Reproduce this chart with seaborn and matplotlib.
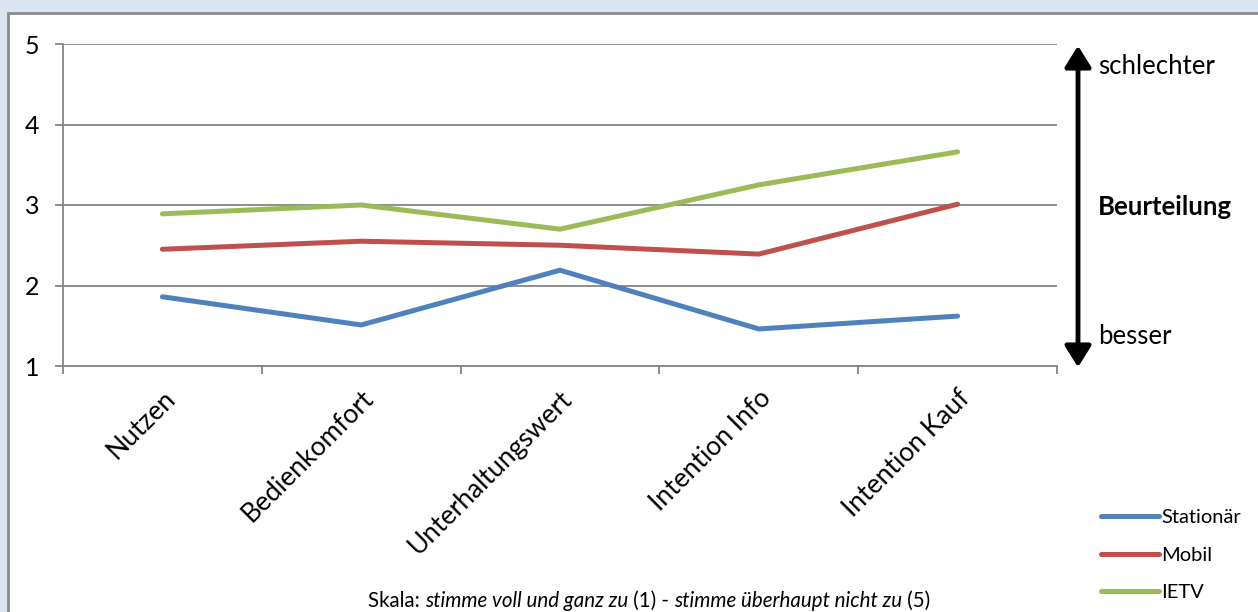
import matplotlib
matplotlib.use('Agg')
import matplotlib.pyplot as plt
from matplotlib.patches import Rectangle, FancyArrowPatch
from matplotlib.lines import Line2D
import seaborn as sns
import pandas as pd

categories = ['Nutzen', 'Bedienkomfort', 'Unterhaltungswert', 'Intention Info', 'Intention Kauf']
stationaer = [1.86, 1.51, 2.19, 1.46, 1.62]
mobil = [2.45, 2.55, 2.50, 2.39, 3.01]
ietv = [2.89, 3.00, 2.70, 3.25, 3.66]
series_names = ['Stationär', 'Mobil', 'IETV']
colors = ['#4F81BD', '#C0504D', '#9BBB59']

df = pd.DataFrame({
    'Kategorie': categories * 3,
    'Wert': stationaer + mobil + ietv,
    'Gruppe': [n for n in series_names for _ in categories],
})
df['pos'] = df['Kategorie'].map({c: i for i, c in enumerate(categories)})

sns.set_style('white')
plt.rcParams['font.family'] = ['Lato', 'DejaVu Sans']
plt.rcParams['text.color'] = 'black'
plt.rcParams['xtick.labelcolor'] = 'black'
plt.rcParams['ytick.labelcolor'] = 'black'

W, H = 1258, 612
fig = plt.figure(figsize=(W / 100, H / 100), dpi=100)
fig.patch.set_facecolor('#DBE5F1')
fig.patches.append(Rectangle((8 / W, -0.1), 1.2, 1 - 13 / H + 0.1, transform=fig.transFigure,
                             facecolor='white', edgecolor='#8C8C8C', linewidth=2, zorder=-5))

ax = fig.add_axes([63 / W, 1 - 366 / H, (1057 - 63) / W, (366 - 44) / H])
ax.set_facecolor('none')

sns.lineplot(data=df, x='pos', y='Wert', hue='Gruppe', palette=colors, linewidth=3.6,
             sort=False, legend=False, ax=ax, zorder=3)

ax.set_xlim(-0.5, len(categories) - 0.5)
ax.set_ylim(1, 5)
ax.set_yticks([1, 2, 3, 4, 5])
ax.yaxis.grid(True, color='#868686', linewidth=1.3)
ax.set_axisbelow(True)
ax.tick_params(axis='y', left=True, length=6, width=1.3, color='#868686', labelsize=18, pad=11)
ax.set_xticks(range(len(categories)))
ax.set_xticklabels(categories, rotation=45, ha='right', rotation_mode='anchor', fontsize=19)
ax.tick_params(axis='x', which='major', bottom=False, length=0, pad=14)
ax.set_xticks([i - 0.5 for i in range(len(categories) + 1)], minor=True)
ax.tick_params(axis='x', which='minor', bottom=True, length=6, width=1.3, color='#868686')
for s in ['top', 'right']:
    ax.spines[s].set_visible(False)
for s in ['left', 'bottom']:
    ax.spines[s].set_color('#868686')
    ax.spines[s].set_linewidth(1.3)
ax.set_xlabel('')
ax.set_ylabel('')

# Arrow and labels on the right
ax_x = 1078 / W
fig.patches.append(FancyArrowPatch(
    (ax_x, 1 - 370 / H), (ax_x, 1 - 43 / H), transform=fig.transFigure,
    arrowstyle='<|-|>,head_length=8,head_width=5', mutation_scale=1.6,
    color='black', linewidth=3.5, zorder=5))
fig.text(1098 / W, 1 - 66 / H, 'schlechter', fontsize=18.5, va='center', ha='left')
fig.text(1098 / W, 1 - 207 / H, 'Beurteilung', fontsize=18.5, fontweight='bold', va='center', ha='left')
fig.text(1098 / W, 1 - 336 / H, 'besser', fontsize=18.5, va='center', ha='left')

# Legend
handles = [Line2D([], [], color=c, linewidth=3.6, solid_capstyle='round') for c in colors]
fig.legend(handles, series_names, loc='center left', bbox_to_anchor=(1101 / W, 1 - 555 / H),
           frameon=False, fontsize=14.5, handlelength=2.9, handletextpad=0.1, labelspacing=1.02,
           borderaxespad=0, borderpad=0)

# Footer with mixed italics
pieces = [('Skala: ', 'normal'), ('stimme voll und ganz zu', 'italic'), (' (1) - ', 'normal'),
          ('stimme überhaupt nicht zu', 'italic'), (' (5)', 'normal')]
fig.canvas.draw()
renderer = fig.canvas.get_renderer()
texts = []
for txt, style in pieces:
    t = fig.text(0, 1 - 601 / H, txt, fontsize=14.8, style=style, va='center', ha='left')
    texts.append(t)
widths = [t.get_window_extent(renderer).width / W for t in texts]
x = 649 / W - sum(widths) / 2
for t, w in zip(texts, widths):
    t.set_x(x)
    x += w

fig.savefig('out.png', dpi=100, facecolor=fig.get_facecolor())
